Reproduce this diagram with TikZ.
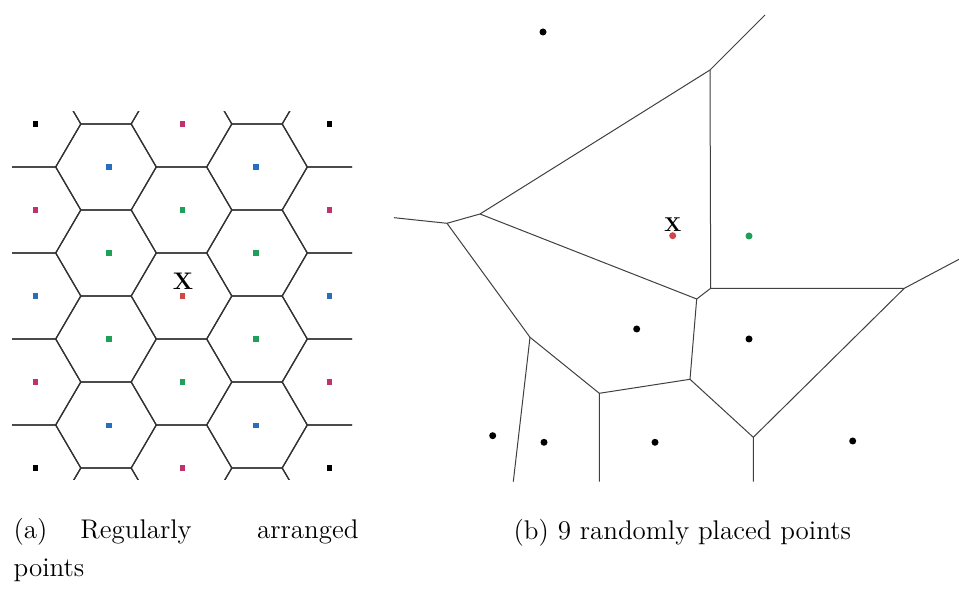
\documentclass[tikz,border=0pt]{standalone}
\usepackage{fontspec}
\definecolor{magpt}{RGB}{190,50,110}
\definecolor{bluept}{RGB}{40,110,190}
\definecolor{greenpt}{RGB}{30,160,90}
\definecolor{redpt}{RGB}{210,70,70}
\tikzset{
  sqpt/.style={rectangle, inner sep=0pt, minimum size=2.6pt, draw=none},
  dotpt/.style={circle, inner sep=0pt, minimum size=3.5pt, draw=none},
  hexline/.style={draw=black!80, line width=0.6pt},
  vorline/.style={draw=black!75, line width=0.5pt},
  captxt/.style={inner sep=0pt, anchor=base west, font=\fontsize{13.5}{16}\selectfont},
}
\begin{document}
\begin{tikzpicture}[x=0.5pt, y=-0.5pt]
\useasboundingbox (0,0) rectangle (959,592);
\fill[white] (0,0) rectangle (959,592);

% ---------- (a) hexagonal Voronoi ----------
\begin{scope}
\clip (12,112) rectangle (352,480);
\foreach \j in {-1,...,5}{
  \foreach \k in {-1,...,9}{
    \pgfmathtruncatemacro\hpar{mod(\j+\k+20,2)}
    \ifnum\hpar=0
      \pgfmathsetmacro\cx{181.5+75.5*(\j-2)}
      \pgfmathsetmacro\cy{124+43*\k}
      \draw[hexline, shift={(\cx,\cy)}]
        (50.3,0) -- (25.2,43) -- (-25.2,43) -- (-50.3,0) -- (-25.2,-43) -- (25.2,-43) -- cycle;
    \fi
  }
}
\end{scope}

% lattice points
\node[sqpt, fill=black]   (a00) at (35.5,124) {};
\node[sqpt, fill=magpt]   (a02) at (182.5,124) {};
\node[sqpt, fill=black]   (a04) at (329.5,124) {};
\node[sqpt, fill=bluept]  (a11) at (109,167) {};
\node[sqpt, fill=bluept]  (a13) at (256,167) {};
\node[sqpt, fill=magpt]   (a20) at (35.5,210) {};
\node[sqpt, fill=greenpt] (a22) at (182.5,210) {};
\node[sqpt, fill=magpt]   (a24) at (329.5,210) {};
\node[sqpt, fill=greenpt] (a31) at (109,253) {};
\node[sqpt, fill=greenpt] (a33) at (256,253) {};
\node[sqpt, fill=bluept]  (a40) at (35.5,296) {};
\node[sqpt, fill=redpt]   (a42) at (182.5,296) {};
\node[sqpt, fill=bluept]  (a44) at (329.5,296) {};
\node[sqpt, fill=greenpt] (a51) at (109,339) {};
\node[sqpt, fill=greenpt] (a53) at (256,339) {};
\node[sqpt, fill=magpt]   (a60) at (35.5,382) {};
\node[sqpt, fill=greenpt] (a62) at (182.5,382) {};
\node[sqpt, fill=magpt]   (a64) at (329.5,382) {};
\node[sqpt, fill=bluept]  (a71) at (109,425.5) {};
\node[sqpt, fill=bluept]  (a73) at (256,425.5) {};
\node[sqpt, fill=black]   (a80) at (35.5,468) {};
\node[sqpt, fill=magpt]   (a82) at (182.5,468) {};
\node[sqpt, fill=black]   (a84) at (329.5,468) {};
\node[inner sep=0pt, font=\fontsize{12}{14}\selectfont\bfseries] (xa) at (183,281) {X};

% ---------- (b) random Voronoi ----------
\coordinate (A) at (394,217.7);
\coordinate (B) at (447,223.3);
\coordinate (C) at (480,214);
\coordinate (D) at (710,70);
\coordinate (E) at (765,15);
\coordinate (F) at (710.7,288.3);
\coordinate (G) at (696.7,299);
\coordinate (H) at (530,337.3);
\coordinate (I) at (513.3,481.7);
\coordinate (J) at (599.3,393.3);
\coordinate (K) at (599.3,481.7);
\coordinate (L) at (690,379.3);
\coordinate (M) at (753.3,437.3);
\coordinate (N) at (753.3,481.7);
\coordinate (O) at (904.3,288.3);
\coordinate (P) at (959,259.3);
\draw[vorline] (A) -- (B) -- (C) -- (D) -- (E);
\draw[vorline] (D) -- (F) -- (O) -- (P);
\draw[vorline] (C) -- (G) -- (F);
\draw[vorline] (B) -- (H) -- (I);
\draw[vorline] (H) -- (J) -- (K);
\draw[vorline] (J) -- (L) -- (G);
\draw[vorline] (L) -- (M) -- (N);
\draw[vorline] (M) -- (O);

\node[dotpt, fill=black]   (b1) at (543,32) {};
\node[dotpt, fill=redpt]   (b2) at (672.7,235.7) {};
\node[dotpt, fill=greenpt] (b3) at (749,236) {};
\node[dotpt, fill=black]   (b4) at (636.7,329) {};
\node[dotpt, fill=black]   (b5) at (749,339) {};
\node[dotpt, fill=black]   (b6) at (492.7,435.7) {};
\node[dotpt, fill=black]   (b7) at (544,442.3) {};
\node[dotpt, fill=black]   (b8) at (655,442.3) {};
\node[dotpt, fill=black]   (b9) at (852.7,441) {};
\node[inner sep=0pt, font=\fontsize{10}{12}\selectfont\bfseries] (xb) at (672.7,224.5) {X};

% ---------- captions ----------
\node[captxt] (ca1) at (13.3,538.5) {(a)};
\node[captxt] (ca2) at (80,538.5) {Regularly};
\node[captxt] (ca3) at (256.7,538.5) {arranged};
\node[captxt] (ca4) at (13.3,577) {points};
\node[captxt] (cb)  at (513.3,540) {(b) 9 randomly placed points};
\end{tikzpicture}
\end{document}
